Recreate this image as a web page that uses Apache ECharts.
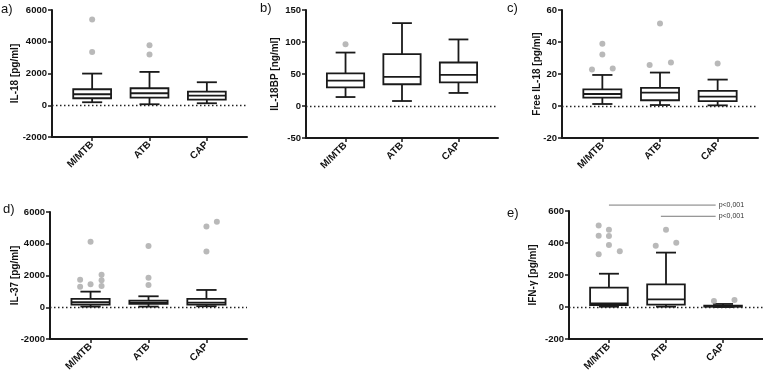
<!DOCTYPE html>
<html>
<head>
<meta charset="utf-8">
<script src="https://cdn.jsdelivr.net/npm/echarts@6/dist/echarts.min.js"></script>
<style>
  html, body { margin: 0; padding: 0; background: #fff; }
  #chart { width: 763px; height: 376px; }
</style>
</head>
<body>
<div id="chart"></div>
<script>
const cats = ['M/MTB', 'ATB', 'CAP']

// box stats per group: [min, q1, median, q3, max]
const il18Box = [[189, 441, 693, 1008, 1995], [63, 483, 756, 1071, 2100], [126, 357, 609, 861, 1449]]
const il18bpBox = [[14, 29, 39.7, 51, 83.5], [7.8, 34, 45.4, 81, 129.5], [20.4, 37, 48.5, 68, 104]]
const freeIl18Box = [[1.25, 5.2, 7.5, 10.4, 19.4], [0.6, 3.6, 8.4, 11.3, 20.9], [0.4, 3.1, 5.8, 9.4, 16.5]]
const il37Box = [[42, 168, 314, 523, 984], [42, 209, 293, 419, 691], [63, 168, 293, 523, 1089]]
const ifngBox = [[2, 12.5, 23, 121, 208], [2, 15, 48, 142, 340], [0, 2, 4, 8, 19]]

// outliers: [group position (index + jitter), value]
const il18Out = [[0, 5397], [0, 3360], [1, 3780], [1, 3192]]
const il18bpOut = [[0, 96.6]]
const freeIl18Out = [[0, 38.9], [0, 32.2], [-0.18, 22.8], [0.18, 23.4], [1, 51.6], [0.82, 25.7], [1.19, 27.2], [2, 26.5]]
const il37Out = [[0, 4125], [-0.18, 1738], [-0.18, 1298], [0, 1445], [0.19, 2052], [0.19, 1696], [0.19, 1340],
  [1, 3853], [1, 1864], [1, 1403], [2, 3518], [2, 5088], [2.18, 5382]]
const ifngOut = [[-0.18, 510], [0, 483], [-0.18, 446], [0, 444], [0, 387], [-0.18, 329], [0.19, 348],
  [1, 483], [0.82, 383], [1.18, 402], [1.84, 37.5], [2.2, 44]]

// significance lines in panel e
const sigFrom = [0, 0.91]
const sigTo = [1.87, 1.87]
const sigY = [637, 567]
const sigText = ['p<0,001', 'p<0,001']

const panels = [
  {tag: 'a)', name: 'IL-18 [pg/ml]', box: il18Box, out: il18Out, min: -2000, max: 6000, step: 2000,
    grid: {left: 52, top: 10, width: 195, height: 127}, gap: 32, tagPos: [1, 3]},
  {tag: 'b)', name: 'IL-18BP [ng/ml]', box: il18bpBox, out: il18bpOut, min: -50, max: 150, step: 50,
    grid: {left: 306, top: 10, width: 192, height: 128}, gap: 26, tagPos: [260, 2]},
  {tag: 'c)', name: 'Free IL-18 [pg/ml]', box: freeIl18Box, out: freeIl18Out, min: -20, max: 60, step: 20,
    grid: {left: 562, top: 10, width: 196, height: 128}, gap: 20, tagPos: [507, 2]},
  {tag: 'd)', name: 'IL-37 [pg/ml]', box: il37Box, out: il37Out, min: -2000, max: 6000, step: 2000,
    grid: {left: 50, top: 212, width: 197, height: 127}, gap: 30, tagPos: [3, 203]},
  {tag: 'e)', name: 'IFN-γ [pg/ml]', box: ifngBox, out: ifngOut, min: -200, max: 600, step: 200,
    grid: {left: 569, top: 211, width: 194, height: 128}, gap: 31, tagPos: [507, 207]},
]

const font = 'Liberation Sans'
const ink = '#1a1a1a'

function renderBox (params, api) {
  const x = api.value(0)
  const lo = api.coord([x, api.value(1)])
  const q1 = api.coord([x, api.value(2)])
  const med = api.coord([x, api.value(3)])
  const q3 = api.coord([x, api.value(4)])
  const hi = api.coord([x, api.value(5)])
  const half = api.size([0.66, 0])[0] / 2
  const cap = api.size([0.35, 0])[0] / 2
  const cx = med[0]
  const style = {stroke: ink, lineWidth: 1.8, fill: null}
  return {
    type: 'group',
    children: [
      {type: 'line', shape: {x1: cx, y1: hi[1], x2: cx, y2: q3[1]}, style: style},
      {type: 'line', shape: {x1: cx - cap, y1: hi[1], x2: cx + cap, y2: hi[1]}, style: style},
      {type: 'line', shape: {x1: cx, y1: lo[1], x2: cx, y2: q1[1]}, style: style},
      {type: 'line', shape: {x1: cx - cap, y1: lo[1], x2: cx + cap, y2: lo[1]}, style: style},
      {type: 'rect', shape: {x: cx - half, y: q3[1], width: half * 2, height: q1[1] - q3[1]},
        style: {stroke: ink, lineWidth: 1.8, fill: '#fff'}},
      {type: 'line', shape: {x1: cx - half, y1: med[1], x2: cx + half, y2: med[1]}, style: style},
    ],
  }
}

let titles = []
let grids = []
let xAxes = []
let yAxes = []
let series = []

panels.forEach((p, i) => {
  titles.push({
    text: p.tag, left: p.tagPos[0], top: p.tagPos[1], padding: 0,
    textStyle: {fontFamily: font, fontSize: 13, fontWeight: 'normal', color: '#111'},
  })
  grids.push(Object.assign({outerBoundsMode: 'none', containLabel: false}, p.grid))
  xAxes.push({
    gridIndex: i,
    type: 'value',
    min: -0.7,
    max: 2.7,
    splitLine: {show: false},
    axisLine: {show: true, onZero: false, lineStyle: {color: ink, width: 2}},
    axisTick: {show: true, length: 4, customValues: [0, 1, 2], lineStyle: {color: ink, width: 1.5}},
    axisLabel: {
      customValues: [0, 1, 2],
      rotate: 45,
      margin: 6,
      formatter: v => cats[Math.round(v)] || '',
      fontFamily: font, fontSize: 10, fontWeight: 'bold', color: '#111',
    },
  })
  yAxes.push({
    gridIndex: i,
    type: 'value',
    min: p.min,
    max: p.max,
    interval: p.step,
    name: p.name,
    nameLocation: 'middle',
    nameGap: p.gap,
    nameMoveOverlap: false,
    nameTextStyle: {fontFamily: font, fontSize: 10, fontWeight: 'bold', color: '#111'},
    splitLine: {show: false},
    axisLine: {show: true, onZero: false, lineStyle: {color: ink, width: 2}},
    axisTick: {show: true, length: 4, lineStyle: {color: ink, width: 1.5}},
    axisLabel: {margin: 5, formatter: v => String(v), fontFamily: font, fontSize: 9.5, fontWeight: 'bold', color: '#111'},
  })
  series.push({
    type: 'custom',
    xAxisIndex: i,
    yAxisIndex: i,
    renderItem: renderBox,
    encode: {x: 0, y: [1, 2, 3, 4, 5]},
    data: p.box.map((b, k) => [k].concat(b)),
    z: 3,
  })
  series.push({
    type: 'scatter',
    xAxisIndex: i,
    yAxisIndex: i,
    symbolSize: 6,
    itemStyle: {color: '#a8a8a8'},
    data: p.out,
    z: 4,
    markLine: {
      silent: true,
      symbol: 'none',
      label: {show: false},
      lineStyle: {color: '#222', type: [1.5, 2.5], width: 1.3},
      data: [{yAxis: 0}],
    },
  })
})

// significance brackets on panel e
for (let k = 0; k < sigY.length; k++) {
  series.push({
    type: 'line',
    xAxisIndex: 4,
    yAxisIndex: 4,
    clip: false,
    silent: true,
    symbol: 'none',
    lineStyle: {color: '#7a7a7a', width: 1},
    data: [[sigFrom[k], sigY[k]], [sigTo[k], sigY[k]]],
    endLabel: {show: true, formatter: sigText[k], distance: 3, fontFamily: font, fontSize: 7, color: '#333'},
  })
}

const myChart = echarts.init(document.getElementById('chart'))
myChart.setOption({
  animation: false,
  backgroundColor: '#fff',
  title: titles,
  grid: grids,
  xAxis: xAxes,
  yAxis: yAxes,
  series: series,
})
</script>
</body>
</html>
